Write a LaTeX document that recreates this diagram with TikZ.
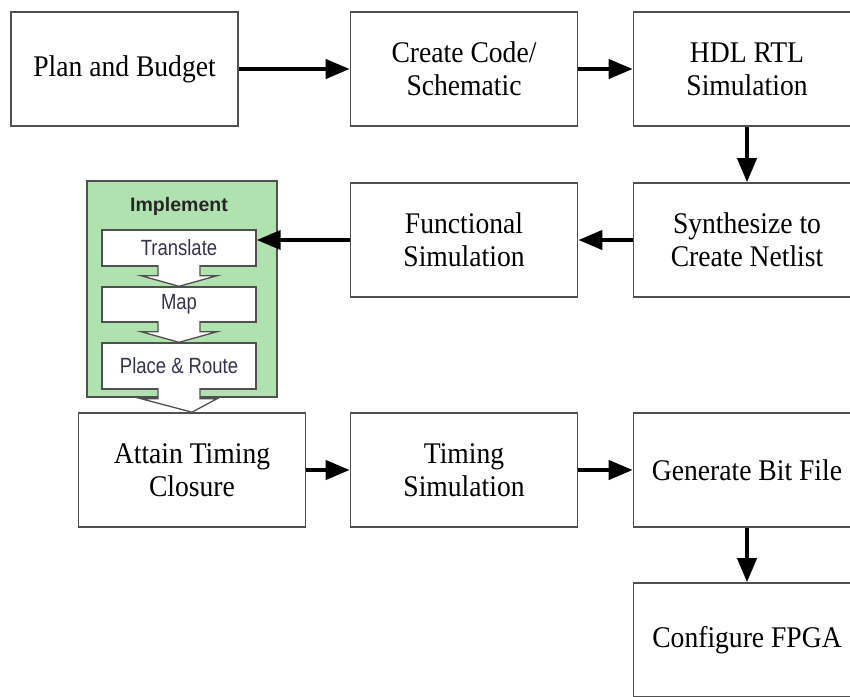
\documentclass[tikz,border=0pt]{standalone}
\usepackage{fontspec}
\setmainfont{Liberation Serif}[FakeStretch=0.92]
\newfontfamily\sansf{Liberation Sans}[FakeStretch=0.84]
\newfontfamily\sansb{Liberation Sans Bold}
\usetikzlibrary{arrows.meta,calc}
\definecolor{boxgray}{HTML}{505050}
\definecolor{implgreen}{HTML}{B0E2B0}
\definecolor{innertext}{HTML}{34344E}
\newcommand\blkarrow[2]{%
  \draw[blockarr] ([xshift=-21pt,yshift=1.5pt]#1.south) -- ([xshift=-21pt,yshift=-9pt]#1.south)
    -- ([xshift=-38pt,yshift=-9pt]#1.south) -- (#2.north)
    -- ([xshift=38pt,yshift=-9pt]#1.south) -- ([xshift=21pt,yshift=-9pt]#1.south)
    -- ([xshift=21pt,yshift=1.5pt]#1.south);}
\begin{document}
\begin{tikzpicture}[x=1pt,y=-1pt,
  mainbox/.style={draw=boxgray,line width=1.6pt,fill=white,minimum width=227pt,minimum height=114pt,
    align=center,font=\fontsize{30}{33}\selectfont,inner sep=0pt},
  implbox/.style={draw=boxgray,line width=1.6pt,fill=implgreen,minimum width=190pt,minimum height=216pt,inner sep=0pt},
  innerbox/.style={draw=boxgray,line width=1.4pt,fill=white,minimum width=154pt,inner sep=0pt,
    font=\sansf\fontsize{22}{24}\selectfont,text=innertext},
  flow/.style={line width=4pt,-{Triangle[length=24pt,width=19pt]}},
  blockarr/.style={draw=boxgray,line width=1.3pt,fill=white,line join=miter}]
\useasboundingbox (0,0) rectangle (850,696);
\clip (0,0) rectangle (850,696);
% main boxes
\node[mainbox] (plan)   at (124.5,69) {Plan and Budget};
\node[mainbox] (code)   at (464,69)   {Create Code/\\Schematic};
\node[mainbox] (hdl)    at (747,69)   {HDL RTL\\Simulation};
\node[mainbox] (func)   at (464,240)  {Functional\\Simulation};
\node[mainbox] (synth)  at (747,240)  {Synthesize to\\Create Netlist};
\node[mainbox] (attain) at (192,470)  {Attain Timing\\Closure};
\node[mainbox] (timing) at (464,470)  {Timing\\Simulation};
\node[mainbox] (genbit) at (747,470)  {Generate Bit File};
\node[mainbox] (config) at (747,640)  {Configure FPGA};
% implement group
\node[implbox] (impl) at (182,289) {};
\node[font=\sansb\fontsize{19.5}{21}\selectfont,text=black!85] (impllabel) at (179,206) {Implement};
\node[innerbox,minimum height=36pt] (trans) at (179,248)   {Translate};
\node[innerbox,minimum height=35pt] (map)   at (179,304.5) {Map};
\node[innerbox,minimum height=46pt] (place) at (179,366)   {Place \& Route};
\blkarrow{trans}{map}
\blkarrow{map}{place}
\blkarrow{place}{attain}
% connectors
\draw[flow] (plan.east) -- (code.west);
\draw[flow] (code.east) -- (hdl.west);
\draw[flow] (hdl.south) -- (synth.north);
\draw[flow] (synth.west) -- (func.east);
\draw[flow] (func.west) -- (func.west -| trans.east);
\draw[flow] (attain.east) -- (timing.west);
\draw[flow] (timing.east) -- (genbit.west);
\draw[flow] (genbit.south) -- (config.north);
\end{tikzpicture}
\end{document}
